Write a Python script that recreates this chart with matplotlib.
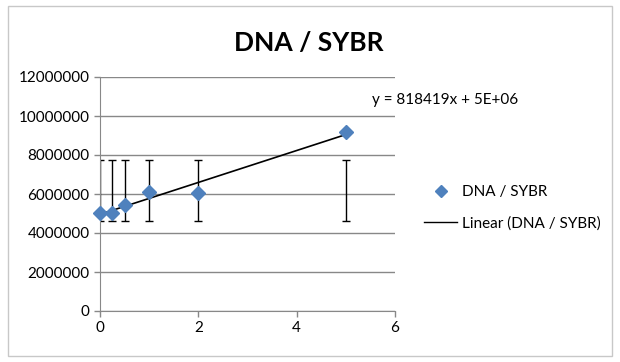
import numpy as np
from matplotlib import pyplot as plt
from matplotlib.lines import Line2D
from matplotlib.patches import Rectangle

# data
conc = [0, 0.25, 0.5, 1, 2, 5]
ratio = [5050000, 5050000, 5450000, 6100000, 6050000, 9197165]
err_low = [4600000] * 6
err_high = [7750000] * 6
y_ticks = [0, 2000000, 4000000, 6000000, 8000000, 10000000, 12000000]
x_ticks = [0, 2, 4, 6]

plt.rcParams["font.family"] = ["Lato", "DejaVu Sans"]

fig = plt.figure(figsize=(6.2, 3.62), dpi=100)
ax = fig.add_axes([100 / 620, 1 - 311 / 362, 295 / 620, 234 / 362])

# error bars (fixed band, not centred on the points)
ax.vlines(conc, err_low, err_high, color="black", lw=1, zorder=2)
ax.plot(conc, err_low, linestyle="none", marker="_", markersize=6,
        markeredgewidth=1, color="black", zorder=2)
ax.plot(conc, err_high, linestyle="none", marker="_", markersize=6,
        markeredgewidth=1, color="black", zorder=2)

# linear trendline
slope, icpt = np.polyfit(conc, ratio, 1)
xs = np.array([min(conc), max(conc)])
ax.plot(xs, slope * xs + icpt, color="black", lw=1.2, zorder=3)

ax.plot(conc, ratio, linestyle="none", marker="D", markersize=7,
        color="#4F81BD", zorder=4, clip_on=False)

ax.set_xlim(0, 6)
ax.set_ylim(0, 12000000)
ax.set_xticks(x_ticks)
ax.set_yticks(y_ticks)
ax.set_yticklabels([str(v) for v in y_ticks])
ax.tick_params(labelsize=11, colors="#888888", labelcolor="black", length=4, width=1)
ax.yaxis.grid(True, color="#888888", lw=1)
ax.set_axisbelow(True)
for s in ["top", "right"]:
    ax.spines[s].set_visible(False)
for s in ["left", "bottom"]:
    ax.spines[s].set_color("#888888")

# title and equation
fig.text(309 / 620, 1 - 43 / 362, "DNA / SYBR", ha="center", va="center",
         fontsize=19, fontweight="bold")
fig.text(372 / 620, 1 - 100 / 362,
         "y = %dx + %s" % (round(slope), "5E+06"),
         ha="left", va="center", fontsize=11)

# legend
handles = [
    Line2D([], [], linestyle="none", marker="D", markersize=6.5, color="#4F81BD"),
    Line2D([], [], color="black", lw=1),
]
fig.legend(handles, ["DNA / SYBR", "Linear (DNA / SYBR)"], loc="center left",
           bbox_to_anchor=(410 / 620, 1 - 208 / 362), frameon=False, fontsize=11,
           handlelength=2.2, handletextpad=0.3, labelspacing=1.1)

# chart border
fig.patches.append(Rectangle((8 / 620, 6 / 362), 604 / 620, 350 / 362,
                             transform=fig.transFigure, fill=False,
                             edgecolor="#c8c8c8", lw=1))

fig.savefig("out.png", dpi=100)
